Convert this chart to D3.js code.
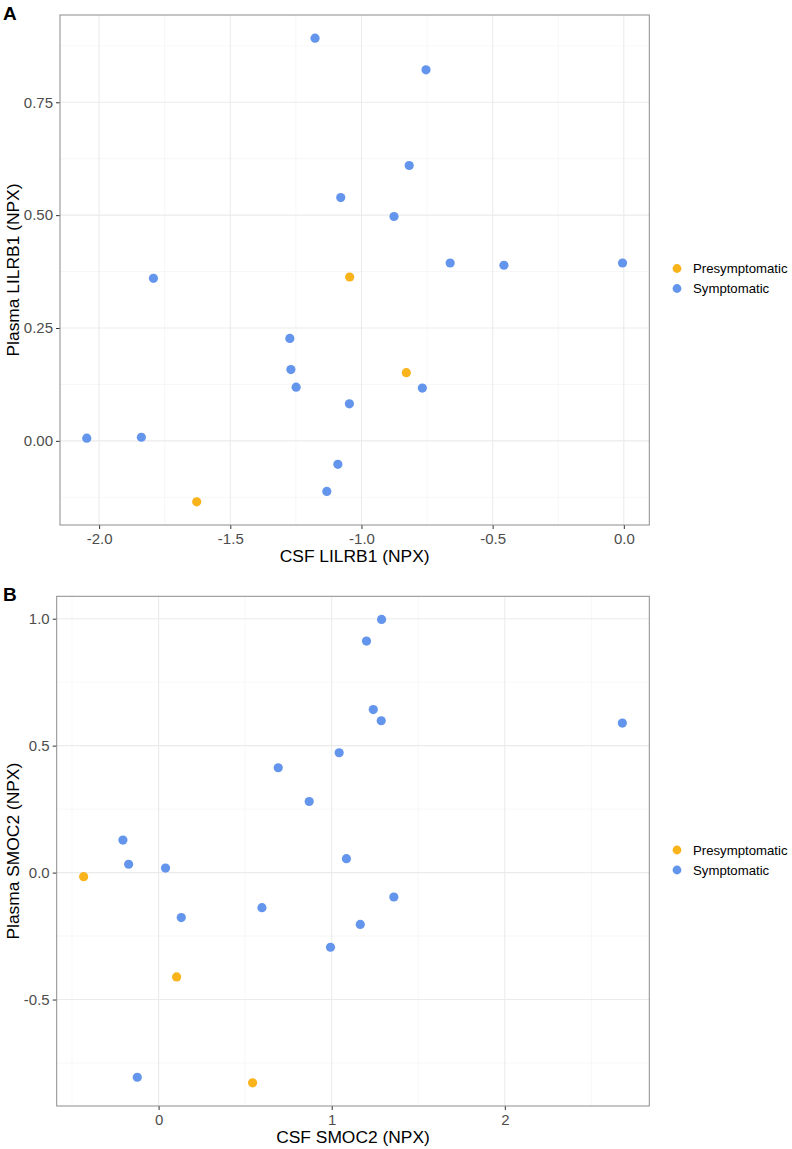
<!DOCTYPE html>
<html><head><meta charset="utf-8">
<script src="https://cdn.jsdelivr.net/npm/d3@7"></script>
<style>
html,body{margin:0;padding:0;background:#fff;}
svg{display:block;font-family:"Liberation Sans",Arial,sans-serif;}
</style></head>
<body>
<svg id="chart" width="792" height="1149"></svg>
<script>
// ---- Data ----
const groups = ["Presymptomatic", "Symptomatic"];
const groupColors = ["#F9B31B", "#6495ED"];

// Panel A: CSF LILRB1 vs Plasma LILRB1
const csfLILRB1 = [-1.177,-1.079,-0.876,-1.793,-0.754,-0.818,-0.662,-0.457,-0.005,-1.273,-1.269,-1.249,-1.046,-2.047,-1.839,-1.090,-1.132,-0.768,-1.045,-1.628,-0.829];
const plasmaLILRB1 = [0.892,0.539,0.497,0.360,0.822,0.610,0.394,0.389,0.394,0.227,0.158,0.119,0.082,0.006,0.008,-0.052,-0.112,0.117,0.363,-0.135,0.151];
const groupA = ["Symptomatic","Symptomatic","Symptomatic","Symptomatic","Symptomatic","Symptomatic","Symptomatic","Symptomatic","Symptomatic","Symptomatic","Symptomatic","Symptomatic","Symptomatic","Symptomatic","Symptomatic","Symptomatic","Symptomatic","Symptomatic","Presymptomatic","Presymptomatic","Presymptomatic"];
const xTicksA = [-2.0,-1.5,-1.0,-0.5,0.0];
const xTickLabelsA = ["-2.0","-1.5","-1.0","-0.5","0.0"];
const yTicksA = [0.00,0.25,0.50,0.75];
const yTickLabelsA = ["0.00","0.25","0.50","0.75"];

// Panel B: CSF SMOC2 vs Plasma SMOC2
const csfSMOC2 = [1.288,1.201,1.240,1.286,1.043,0.691,0.870,-0.206,-0.173,0.040,1.085,0.131,0.597,1.359,1.165,0.993,-0.123,2.679,-0.433,0.104,0.543];
const plasmaSMOC2 = [0.997,0.912,0.642,0.598,0.472,0.413,0.280,0.128,0.033,0.018,0.055,-0.177,-0.138,-0.096,-0.204,-0.294,-0.806,0.589,-0.016,-0.411,-0.828];
const groupB = ["Symptomatic","Symptomatic","Symptomatic","Symptomatic","Symptomatic","Symptomatic","Symptomatic","Symptomatic","Symptomatic","Symptomatic","Symptomatic","Symptomatic","Symptomatic","Symptomatic","Symptomatic","Symptomatic","Symptomatic","Symptomatic","Presymptomatic","Presymptomatic","Presymptomatic"];
const xTicksB = [0,1,2];
const xTickLabelsB = ["0","1","2"];
const yTicksB = [-0.5,0.0,0.5,1.0];
const yTickLabelsB = ["-0.5","0.0","0.5","1.0"];

// ---- Drawing ----
const svg = d3.select("#chart");
const color = d3.scaleOrdinal().domain(groups).range(groupColors);

function expand(ext){ const r = ext[1]-ext[0]; return [ext[0]-0.05*r, ext[1]+0.05*r]; }

function minors(ticks, domain){
  const step = ticks[1]-ticks[0];
  const out = [];
  for (let v = ticks[0]-step/2; v <= domain[1]; v += step) {
    if (v >= domain[0]) out.push(v);
  }
  return out;
}

function panel(cfg){
  const {left, top, right, bottom, xs, ys, gs, xTicks, xLabels, yTicks, yLabels, xTitle, yTitle, letter, legendY} = cfg;
  const data = xs.map((x,i)=>({x, y: ys[i], g: gs[i]}));
  const x = d3.scaleLinear().domain(expand(d3.extent(xs))).range([left, right]);
  const y = d3.scaleLinear().domain(expand(d3.extent(ys))).range([bottom, top]);
  const g = svg.append("g");

  // minor grid
  g.selectAll(null).data(minors(xTicks, x.domain())).join("line")
    .attr("x1", d=>x(d)).attr("x2", d=>x(d)).attr("y1", top).attr("y2", bottom)
    .attr("stroke", "#F2F2F2").attr("stroke-width", 0.6);
  g.selectAll(null).data(minors(yTicks, y.domain())).join("line")
    .attr("y1", d=>y(d)).attr("y2", d=>y(d)).attr("x1", left).attr("x2", right)
    .attr("stroke", "#F2F2F2").attr("stroke-width", 0.6);
  // major grid
  g.selectAll(null).data(xTicks).join("line")
    .attr("x1", d=>x(d)).attr("x2", d=>x(d)).attr("y1", top).attr("y2", bottom)
    .attr("stroke", "#EBEBEB").attr("stroke-width", 1.1);
  g.selectAll(null).data(yTicks).join("line")
    .attr("y1", d=>y(d)).attr("y2", d=>y(d)).attr("x1", left).attr("x2", right)
    .attr("stroke", "#EBEBEB").attr("stroke-width", 1.1);

  // axes
  const xAxis = d3.axisBottom(x).tickValues(xTicks).tickSize(4).tickPadding(3)
    .tickFormat((d,i)=>xLabels[i]);
  const yAxis = d3.axisLeft(y).tickValues(yTicks).tickSize(4).tickPadding(3)
    .tickFormat((d,i)=>yLabels[i]);
  const gx = g.append("g").attr("transform", `translate(0,${bottom})`).call(xAxis);
  const gy = g.append("g").attr("transform", `translate(${left},0)`).call(yAxis);
  [gx, gy].forEach(a=>{
    a.select(".domain").remove();
    a.selectAll(".tick line").attr("stroke", "#333333").attr("stroke-width", 1);
    a.selectAll(".tick text").attr("fill", "#4D4D4D").style("font-size", "15px")
      .style("font-family", '"Liberation Sans",Arial,sans-serif');
  });
  gx.selectAll(".tick text").attr("dy", "0.78em");

  // border
  g.append("rect").attr("x", left).attr("y", top).attr("width", right-left).attr("height", bottom-top)
    .attr("fill", "none").attr("stroke", "#8C8C8C").attr("stroke-width", 1);

  // points
  g.selectAll(null).data(data).join("circle")
    .attr("cx", d=>x(d.x)).attr("cy", d=>y(d.y)).attr("r", 4.6)
    .attr("fill", d=>color(d.g));

  // titles
  g.append("text").attr("x", (left+right)/2).attr("y", bottom+37)
    .attr("text-anchor", "middle").style("font-size", "17.4px").attr("fill", "#000").text(xTitle);
  g.append("text").attr("transform", `translate(19,${(top+bottom)/2}) rotate(-90)`)
    .attr("text-anchor", "middle").style("font-size", "17.4px").attr("fill", "#000").text(yTitle);
  g.append("text").attr("x", 3).attr("y", top+5).style("font-size", "19px").style("font-weight", "bold")
    .attr("fill", "#000").text(letter);

  // legend
  const lg = g.append("g").attr("transform", `translate(677,${legendY})`);
  const items = lg.selectAll(null).data(groups).join("g")
    .attr("transform", (d,i)=>`translate(0,${i*20})`);
  items.append("circle").attr("r", 4.4).attr("fill", d=>color(d));
  items.append("text").attr("x", 16).attr("dy", "0.36em").style("font-size", "13.2px")
    .attr("fill", "#000").text(d=>d);
}

panel({left:60, top:15, right:649.3, bottom:525, xs:csfLILRB1, ys:plasmaLILRB1, gs:groupA,
  xTicks:xTicksA, xLabels:xTickLabelsA, yTicks:yTicksA, yLabels:yTickLabelsA,
  xTitle:"CSF LILRB1 (NPX)", yTitle:"Plasma LILRB1 (NPX)", letter:"A", legendY:268.5});
panel({left:56.7, top:596.3, right:649.3, bottom:1106, xs:csfSMOC2, ys:plasmaSMOC2, gs:groupB,
  xTicks:xTicksB, xLabels:xTickLabelsB, yTicks:yTicksB, yLabels:yTickLabelsB,
  xTitle:"CSF SMOC2 (NPX)", yTitle:"Plasma SMOC2 (NPX)", letter:"B", legendY:850});
</script>
</body></html>
